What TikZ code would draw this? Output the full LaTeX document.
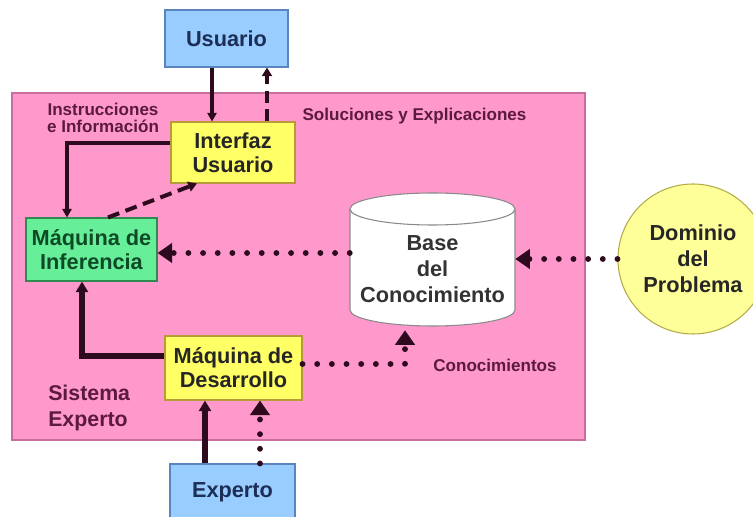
\documentclass[tikz,border=0pt]{standalone}
\usepackage{fontspec}
\setmainfont{Liberation Sans}
\usetikzlibrary{positioning,arrows.meta,calc}
\definecolor{pinkSys}{HTML}{FF99CC}
\definecolor{pinkLine}{HTML}{C86E9C}
\definecolor{blueLite}{HTML}{99CCFF}
\definecolor{blueLine}{HTML}{5A84BE}
\definecolor{navy}{HTML}{1C2E55}
\definecolor{yellowBox}{HTML}{FFFF66}
\definecolor{yellowLine}{HTML}{B89A3C}
\definecolor{yellowLite}{HTML}{FFFF99}
\definecolor{olive}{HTML}{B4AC48}
\definecolor{greenBox}{HTML}{66EE99}
\definecolor{greenLine}{HTML}{2F8A50}
\definecolor{greenDark}{HTML}{0F4A26}
\definecolor{ink}{HTML}{2E0A1E}
\definecolor{labelInk}{HTML}{5C1A3D}
\definecolor{cylLine}{HTML}{8A8A8A}

\begin{document}
\begin{tikzpicture}[x=0.75pt,y=0.75pt,
    box/.style={draw,line width=0.8pt,inner sep=0pt,align=center,
      font=\fontsize{16.3}{18}\selectfont\bfseries},
    lab/.style={inner sep=0pt,align=center,text=labelInk,
      font=\fontsize{12.8}{13}\selectfont\bfseries},
    thinarr/.style={draw=ink,line width=2.8pt,-{Triangle[length=6.5pt,width=7pt]}},
    thickarr/.style={draw=ink,line width=3.8pt,-{Triangle[length=8pt,width=9pt]}},
    dasharr/.style={draw=ink,line width=3pt,dash pattern=on 9pt off 5pt,
      -{Triangle[length=6.5pt,width=7.5pt]}},
    dotarr/.style={draw=ink,line width=4.4pt,line cap=round,dash pattern=on 0pt off 11pt,
      -{Triangle[length=11pt,width=14.5pt]}}]
  \useasboundingbox (0,0) rectangle (753,517);
  % system background
  \draw[fill=pinkSys,draw=pinkLine,line width=0.8pt] (12,77) rectangle (585,424);
  % knowledge base cylinder
  \fill[white] (350,308) -- (350,207) arc[start angle=180,end angle=360,x radius=82.5,y radius=16]
    -- (515,308) arc[start angle=0,end angle=180,x radius=82.5,y radius=16] -- cycle;
  \draw[cylLine,line width=0.8pt] (350,308) -- (350,207) arc[start angle=180,end angle=360,x radius=82.5,y radius=16]
    -- (515,308) arc[start angle=0,end angle=180,x radius=82.5,y radius=16];
  \draw[cylLine,line width=0.8pt] (350,308) arc[start angle=180,end angle=360,x radius=82.5,y radius=16];
  \node[minimum width=123.75pt,minimum height=99.75pt,inner sep=0pt] (base) at (432.5,257.5) {};
  \node[inner sep=0pt,align=center,text=black!80,font=\fontsize{16.3}{19.5}\selectfont\bfseries]
    (baseText) at (432.5,248) {Base\\del\\Conocimiento};

  \node[box,fill=blueLite,draw=blueLine,text=navy,minimum width=92.25pt,minimum height=42.75pt]
    (usuario) at (226.5,478.5) {Usuario};
  \node[box,fill=yellowBox,draw=yellowLine,text=black!85,minimum width=93pt,minimum height=45.75pt]
    (interfaz) at (233,364.5) {Interfaz\\Usuario};
  \node[box,fill=greenBox,draw=greenLine,text=greenDark,minimum width=98.25pt,minimum height=47.25pt]
    (infer) at (91.5,267.5) {Máquina de\\Inferencia};
  \node[box,fill=yellowBox,draw=yellowLine,text=black!85,minimum width=102.75pt,minimum height=48pt]
    (desa) at (233.5,149) {Máquina de\\Desarrollo};
  \node[box,fill=blueLite,draw=blueLine,text=navy,minimum width=93.75pt,minimum height=42.75pt]
    (experto) at (232.5,24.5) {Experto};
  \node[box,circle,fill=yellowLite,draw=olive,text=black!85,minimum size=112.5pt,
    font=\fontsize{16.3}{19.5}\selectfont\bfseries] (dominio) at (693,258) {Dominio\\del\\Problema};

  % labels
  \node[lab] (instr) at (103,399) {Instrucciones\\e Información};
  \node[lab] (solu) at (414.5,401) {Soluciones y Explicaciones};
  \node[lab] (conoc) at (495,152) {Conocimientos};
  \node[lab,anchor=west,align=left,font=\fontsize{16}{19.5}\selectfont\bfseries]
    (sist) at (48,109) {Sistema\\Experto};

  % connectors
  \coordinate (uIn) at ($(usuario.south)+(-14.5,0)$);
  \draw[thinarr] (uIn) -- (uIn |- interfaz.north);
  \coordinate (sOut) at ($(interfaz.north)+(34,0)$);
  \draw[dasharr] (sOut) -- (sOut |- usuario.south);
  \coordinate (iOut) at ($(interfaz.west)+(0,9.5)$);
  \draw[thinarr] (iOut) -| ($(infer.north)+(-24.5,0)$);
  \draw[dasharr] ($(infer.north)+(16.5,0)$) -- ($(interfaz.south)+(-36,0)$);
  \coordinate (kIn) at ($(base.west)+(0,6.5)$);
  \draw[dotarr] (kIn) -- (kIn -| infer.east);
  \draw[dotarr] (dominio.west) -- (dominio.west -| base.east);
  \coordinate (dOut) at ($(desa.west)+(0,12)$);
  \draw[thickarr] (dOut) -| ($(infer.south)+(-9.5,0)$);
  \coordinate (dK) at ($(desa.east)+(0,4)$);
  \draw[dotarr] (dK) -| ($(base.south)+(-27.5,-4)$);
  \coordinate (eA) at ($(experto.north)+(-27.5,0)$);
  \draw[thickarr] (eA) -- (eA |- desa.south);
  \coordinate (eB) at ($(experto.north)+(27.5,0)$);
  \draw[dotarr] (eB) -- (eB |- desa.south);
\end{tikzpicture}
\end{document}
